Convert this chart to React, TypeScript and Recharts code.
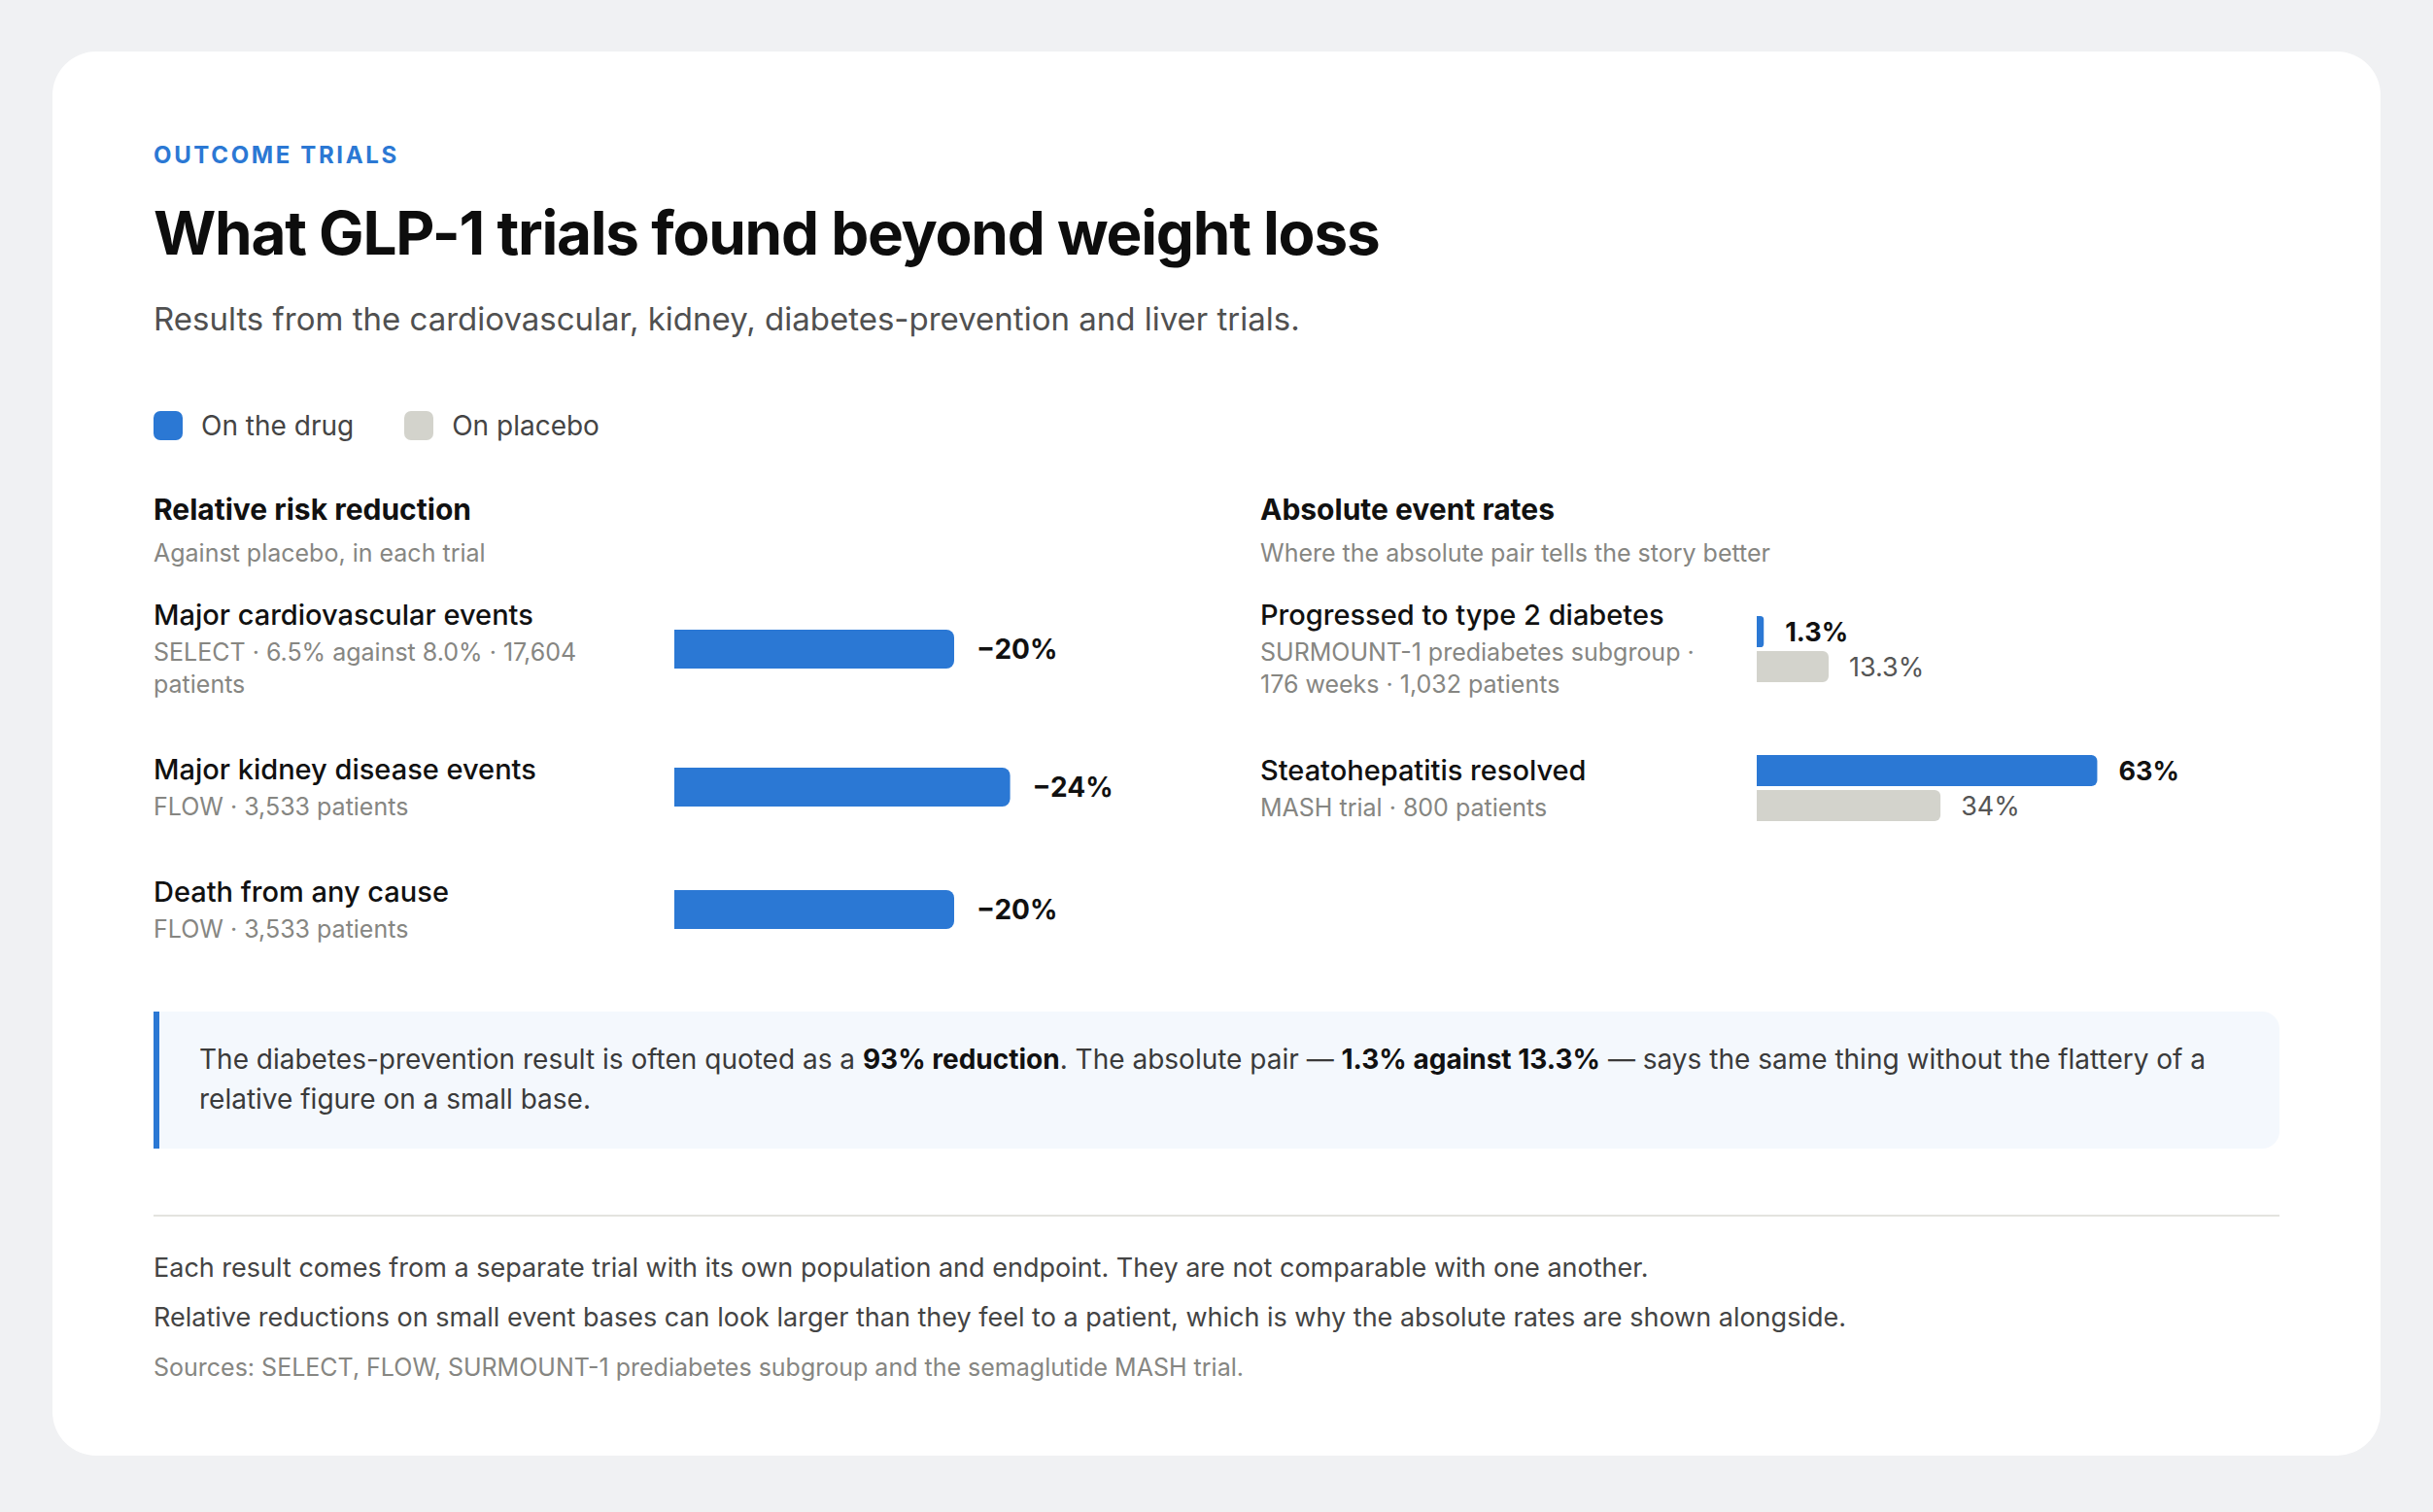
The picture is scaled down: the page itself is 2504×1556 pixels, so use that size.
import React from 'react';
import { BarChart, Bar, XAxis, YAxis, LabelList } from 'recharts';

const DRUG = '#2b78d4';
const PLACEBO = '#d3d3cc';
const FONT = 'Inter, "Noto Sans", sans-serif';

// Relative risk reduction panel
const relativeLabels = ['Major cardiovascular events', 'Major kidney disease events', 'Death from any cause'];
const relativeNotes = [
  'SELECT · 6.5% against 8.0% · 17,604 patients',
  'FLOW · 3,533 patients',
  'FLOW · 3,533 patients',
];
const relativeReduction = [20, 24, 20];

// Absolute event rates panel
const absoluteLabels = ['Progressed to type 2 diabetes', 'Steatohepatitis resolved'];
const absoluteNotes = ['SURMOUNT-1 prediabetes subgroup · 176 weeks · 1,032 patients', 'MASH trial · 800 patients'];
const absoluteDrug = [1.3, 63];
const absolutePlacebo = [13.3, 34];

const legendItems = [
  { name: 'On the drug', color: DRUG },
  { name: 'On placebo', color: PLACEBO },
];

const RowText = ({ label, note, width }: { label: string; note: string; width: number }) => (
  <div style={{ width, flexShrink: 0 }}>
    <div style={{ maxWidth: 470 }}>
      <div style={{ fontSize: 29, lineHeight: '38px', fontWeight: 500, color: '#111' }}>{label}</div>
      <div style={{ fontSize: 25, lineHeight: '33px', marginTop: 3, color: '#868682' }}>{note}</div>
    </div>
  </div>
);

const RelativeRow = ({ index }: { index: number }) => {
  const data = [{ name: relativeLabels[index], value: relativeReduction[index] }];
  return (
    <div style={{ display: 'flex', alignItems: 'center', marginTop: index === 0 ? 0 : 52 }}>
      <RowText label={relativeLabels[index]} note={relativeNotes[index]} width={536} />
      <BarChart width={560} height={60} data={data} layout="vertical" margin={{ top: 0, right: 128, bottom: 0, left: 0 }}>
        <XAxis type="number" domain={[0, 30]} hide />
        <YAxis type="category" dataKey="name" hide />
        <Bar dataKey="value" fill={DRUG} barSize={40} radius={[0, 8, 8, 0]} isAnimationActive={false}>
          <LabelList
            dataKey="value"
            position="right"
            offset={23}
            formatter={(v: number) => `\u2212${v}%`}
            fill="#111"
            fontSize={28}
            fontWeight={700}
            fontFamily={FONT}
          />
        </Bar>
      </BarChart>
    </div>
  );
};

const AbsoluteRow = ({ index }: { index: number }) => {
  const data = [{ name: absoluteLabels[index], drug: absoluteDrug[index], placebo: absolutePlacebo[index] }];
  return (
    <div style={{ display: 'flex', alignItems: 'center', marginTop: index === 0 ? 0 : 52 }}>
      <RowText label={absoluteLabels[index]} note={absoluteNotes[index]} width={511} />
      <BarChart
        width={545}
        height={76}
        data={data}
        layout="vertical"
        barGap={4}
        barCategoryGap={0}
        margin={{ top: 0, right: 100, bottom: 0, left: 0 }}
      >
        <XAxis type="number" domain={[0, 80]} hide />
        <YAxis type="category" dataKey="name" hide />
        <Bar dataKey="drug" fill={DRUG} barSize={32} radius={[0, 6, 6, 0]} isAnimationActive={false}>
          <LabelList
            dataKey="drug"
            position="right"
            offset={22}
            formatter={(v: number) => `${v}%`}
            fill="#111"
            fontSize={27}
            fontWeight={700}
            fontFamily={FONT}
          />
        </Bar>
        <Bar dataKey="placebo" fill={PLACEBO} barSize={32} radius={[0, 6, 6, 0]} isAnimationActive={false}>
          <LabelList
            dataKey="placebo"
            position="right"
            offset={21}
            formatter={(v: number) => `${v}%`}
            fill="#555"
            fontSize={27}
            fontWeight={400}
            fontFamily={FONT}
          />
        </Bar>
      </BarChart>
    </div>
  );
};

const PanelHead = ({ title, sub }: { title: string; sub: string }) => (
  <>
    <div style={{ fontSize: 30, lineHeight: '36px', fontWeight: 700, color: '#111' }}>{title}</div>
    <div style={{ fontSize: 25, lineHeight: '30px', marginTop: 12, marginBottom: 30, color: '#868682' }}>{sub}</div>
  </>
);

export default function App() {
  return (
    <div style={{ width: 2504, height: 1556, background: '#f0f1f3', paddingTop: 53, paddingLeft: 54, boxSizing: 'border-box', fontFamily: FONT }}>
      <style>{`body { margin: 0; }`}</style>
      <div
        style={{
          width: 2396,
          height: 1445,
          background: '#fff',
          borderRadius: 45,
          padding: '92px 104px 0',
          boxSizing: 'border-box',
        }}
      >
        <div style={{ fontSize: 24, lineHeight: '30px', fontWeight: 700, letterSpacing: '0.11em', color: DRUG }}>OUTCOME TRIALS</div>
        <div style={{ fontSize: 62, lineHeight: '74px', fontWeight: 700, letterSpacing: '-0.02em', color: '#0d0d0d', marginTop: 28 }}>
          What GLP-1 trials found beyond weight loss
        </div>
        <div style={{ fontSize: 33, lineHeight: '40px', color: '#505050', marginTop: 31 }}>
          Results from the cardiovascular, kidney, diabetes-prevention and liver trials.
        </div>

        <div style={{ display: 'flex', alignItems: 'center', height: 30, marginTop: 75 }}>
          {legendItems.map((item, i) => (
            <div key={item.name} style={{ display: 'flex', alignItems: 'center', marginRight: i === 0 ? 52 : 0 }}>
              <span style={{ width: 30, height: 30, borderRadius: 7, background: item.color, display: 'inline-block' }} />
              <span style={{ fontSize: 28, color: '#444', marginLeft: 19 }}>{item.name}</span>
            </div>
          ))}
        </div>

        <div style={{ display: 'flex', marginTop: 53 }}>
          <div style={{ width: 1139, flexShrink: 0 }}>
            <PanelHead title="Relative risk reduction" sub="Against placebo, in each trial" />
            {relativeLabels.map((_, i) => (
              <RelativeRow key={i} index={i} />
            ))}
          </div>
          <div style={{ flex: 1 }}>
            <PanelHead title="Absolute event rates" sub="Where the absolute pair tells the story better" />
            {absoluteLabels.map((_, i) => (
              <AbsoluteRow key={i} index={i} />
            ))}
          </div>
        </div>

        <div
          style={{
            marginTop: 68,
            background: '#f4f8fd',
            borderLeft: `6px solid ${DRUG}`,
            borderRadius: '0 18px 18px 0',
            padding: '29px 48px 30px 41px',
            fontSize: 28,
            lineHeight: '41px',
            color: '#3a3a3a',
          }}
        >
          The diabetes-prevention result is often quoted as a <b style={{ color: '#111' }}>93% reduction</b>. The absolute pair —{' '}
          <b style={{ color: '#111' }}>1.3% against 13.3%</b> — says the same thing without the flattery of a relative figure on a small base.
        </div>

        <div style={{ height: 2, background: '#e3e3df', marginTop: 68 }} />

        <p style={{ margin: '33px 0 0', fontSize: 27, lineHeight: '40px', color: '#444' }}>
          Each result comes from a separate trial with its own population and endpoint. They are not comparable with one another.
        </p>
        <p style={{ margin: '11px 0 0', fontSize: 27, lineHeight: '40px', color: '#444' }}>
          Relative reductions on small event bases can look larger than they feel to a patient, which is why the absolute rates are shown alongside.
        </p>
        <p style={{ margin: '14px 0 0', fontSize: 25, lineHeight: '34px', color: '#868682' }}>
          Sources: SELECT, FLOW, SURMOUNT-1 prediabetes subgroup and the semaglutide MASH trial.
        </p>
      </div>
    </div>
  );
}
